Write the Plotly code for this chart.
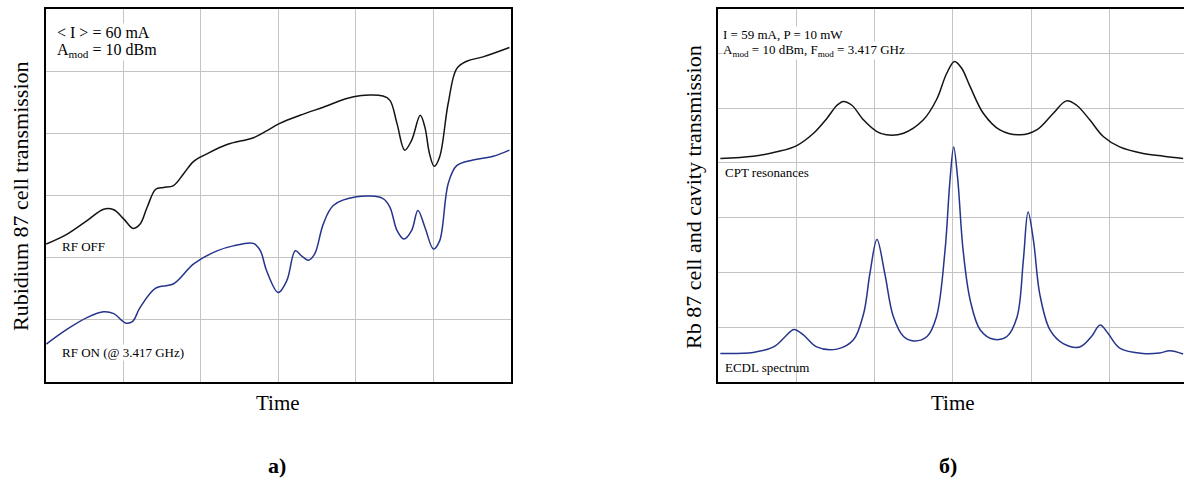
import plotly.graph_objects as go

W, H = 1184, 478

# ---- Panel a) : Rb87 cell transmission (grid units) ----
a_off_x = [0.01, 0.28, 0.54, 0.75, 0.88, 1.01, 1.13, 1.22, 1.31, 1.42, 1.52, 1.65, 1.78, 1.91, 2.08, 2.34,
           2.68, 2.85, 3.02, 3.28, 3.58, 3.97, 4.35, 4.44, 4.53, 4.63, 4.72, 4.83, 4.89, 4.95, 5.01, 5.08,
           5.19, 5.30, 5.43, 5.64, 5.98]
a_off_y = [2.22, 2.38, 2.60, 2.78, 2.77, 2.62, 2.47, 2.54, 2.81, 3.10, 3.13, 3.16, 3.35, 3.55, 3.67, 3.82,
           3.93, 4.04, 4.16, 4.29, 4.42, 4.59, 4.60, 4.53, 4.16, 3.73, 3.89, 4.29, 4.10, 3.67, 3.47, 3.62,
           4.48, 5.04, 5.16, 5.23, 5.38]

a_on_x = [0.01, 0.28, 0.54, 0.75, 0.88, 1.03, 1.12, 1.22, 1.42, 1.65, 1.91, 2.21, 2.42, 2.68, 2.77, 2.85,
          3.00, 3.11, 3.22, 3.30, 3.39, 3.47, 3.58, 3.71, 4.01, 4.35, 4.44, 4.53, 4.62, 4.72, 4.80, 4.89,
          5.00, 5.08, 5.19, 5.30, 5.51, 5.77, 5.98]
a_on_y = [0.61, 0.85, 1.04, 1.13, 1.10, 0.95, 0.97, 1.20, 1.51, 1.58, 1.90, 2.11, 2.19, 2.23, 2.11, 1.79,
          1.44, 1.63, 2.11, 2.03, 1.96, 2.06, 2.54, 2.84, 2.98, 2.95, 2.81, 2.44, 2.30, 2.44, 2.76, 2.49,
          2.14, 2.27, 3.19, 3.48, 3.57, 3.63, 3.73]

# ---- Panel б) : CPT resonances and ECDL spectrum ----
b_cpt_x = [0.03, 0.45, 0.75, 1.00, 1.22, 1.39, 1.52, 1.60, 1.71, 1.86, 2.03, 2.15, 2.37, 2.62, 2.79, 2.92,
           3.02, 3.11, 3.22, 3.39, 3.60, 3.86, 4.07, 4.28, 4.45, 4.58, 4.75, 4.92, 5.13, 5.43, 5.69, 5.94]
b_cpt_y = [4.08, 4.12, 4.20, 4.31, 4.54, 4.81, 5.05, 5.12, 5.05, 4.78, 4.57, 4.51, 4.54, 4.78, 5.15, 5.63,
           5.85, 5.73, 5.39, 4.90, 4.60, 4.51, 4.60, 4.90, 5.13, 5.05, 4.78, 4.48, 4.29, 4.17, 4.12, 4.08]

b_ecdl_x = [0.03, 0.45, 0.71, 0.86, 0.97, 1.09, 1.26, 1.52, 1.73, 1.86, 1.94, 2.03, 2.13, 2.24, 2.37, 2.50,
            2.67, 2.79, 2.90, 2.96, 3.01, 3.06, 3.13, 3.22, 3.35, 3.52, 3.69, 3.82, 3.90, 3.96, 4.03, 4.11,
            4.24, 4.41, 4.62, 4.77, 4.88, 4.98, 5.13, 5.43, 5.64, 5.77, 5.94]
b_ecdl_y = [0.52, 0.54, 0.64, 0.83, 0.96, 0.86, 0.64, 0.60, 0.77, 1.25, 1.98, 2.60, 1.98, 1.19, 0.83, 0.75,
            0.83, 1.19, 2.41, 3.63, 4.29, 3.73, 2.41, 1.50, 0.95, 0.78, 0.83, 1.19, 2.23, 3.10, 2.57, 1.60,
            0.95, 0.70, 0.64, 0.83, 1.04, 0.89, 0.62, 0.52, 0.53, 0.57, 0.51]

BLACK = "#141414"
BLUE = "#26358c"
GRID = "#c4c4c4"
SERIF = "Liberation Serif, Times New Roman, serif"

fig = go.Figure()
line_kw = dict(shape="spline", smoothing=1.0, width=1.5)
fig.add_trace(go.Scatter(x=a_off_x, y=a_off_y, mode="lines", line=dict(color=BLACK, **line_kw),
                         xaxis="x", yaxis="y", showlegend=False, hoverinfo="skip"))
fig.add_trace(go.Scatter(x=a_on_x, y=a_on_y, mode="lines", line=dict(color=BLUE, **line_kw),
                         xaxis="x", yaxis="y", showlegend=False, hoverinfo="skip"))
fig.add_trace(go.Scatter(x=b_cpt_x, y=b_cpt_y, mode="lines", line=dict(color=BLACK, **line_kw),
                         xaxis="x2", yaxis="y2", showlegend=False, hoverinfo="skip"))
fig.add_trace(go.Scatter(x=b_ecdl_x, y=b_ecdl_y, mode="lines", line=dict(color=BLUE, **line_kw),
                         xaxis="x2", yaxis="y2", showlegend=False, hoverinfo="skip"))

L1, R1 = 45.5, 511.0
L2, R2 = 718.0, 1184.0
TOP, BOT = 9.0, 382.0

def px(x):
    return x / W

def py(y):
    # paper coords refer to the plot area between the top and bottom margins
    return (BOT - y) / (BOT - TOP)

ax_common = dict(showticklabels=False, ticks="", showgrid=True, gridcolor=GRID, gridwidth=1,
                 zeroline=False, tick0=0, dtick=1, linecolor="black", linewidth=2, fixedrange=True)

fig.update_layout(
    width=W, height=H,
    margin=dict(l=0, r=0, t=int(TOP), b=int(H - BOT)),
    paper_bgcolor="white", plot_bgcolor="white",
    xaxis=dict(domain=[px(L1), px(R1)], range=[0, 6], showline=True, mirror=True, anchor="y", **ax_common),
    yaxis=dict(domain=[0, 1], range=[0, 6], showline=True, mirror=True, anchor="x", **ax_common),
    xaxis2=dict(domain=[px(L2), 1], range=[0, (R2 - L2) / 78.3], showline=True, mirror=True, anchor="y2", **ax_common),
    yaxis2=dict(domain=[0, 1], range=[0, (BOT - TOP) / 54.8], showline=True, mirror=False, anchor="x2", **ax_common),
    font=dict(family=SERIF, color="black"),
)

anns = []

def note(text, x, y, size, xanchor="left", yanchor="middle", bg=None, angle=0, bold=False):
    if bold:
        text = "<b>" + text + "</b>"
    a = dict(text=text, x=px(x), y=py(y), xref="paper", yref="paper", showarrow=False,
             xanchor=xanchor, yanchor=yanchor, textangle=angle, borderpad=0,
             font=dict(family=SERIF, size=size, color="black"))
    if bg:
        a["bgcolor"] = bg
    anns.append(a)

# panel a texts
note("&lt; I &gt; = 60 mA", 56, 32, 16, bg="white")
note("A<sub>mod</sub> = 10 dBm", 56, 51, 16, bg="white")
note("RF OFF", 61, 246, 13)
note("RF ON (@ 3.417 GHz)", 61, 352, 13, bg="white")
note("Rubidium 87 cell transmission", 20, 196, 22, xanchor="center", angle=-90)
note("Time", 278, 403, 21, xanchor="center")
note("а)", 277, 465, 22, xanchor="center", bold=True)

# panel б texts
note("I = 59 mA, P = 10 mW", 722, 34, 13, bg="white")
note("A<sub>mod</sub> = 10 dBm, F<sub>mod</sub> = 3.417 GHz", 722, 51, 13, bg="white")
note("CPT resonances", 724, 173, 13)
note("ECDL spectrum", 724, 367, 13)
note("Rb 87 cell and cavity transmission", 693, 197, 22, xanchor="center", angle=-90)
note("Time", 953, 403, 21, xanchor="center")
note("б)", 948, 465, 22, xanchor="center", bold=True)

fig.update_layout(annotations=anns)
fig.write_html("out.html")
